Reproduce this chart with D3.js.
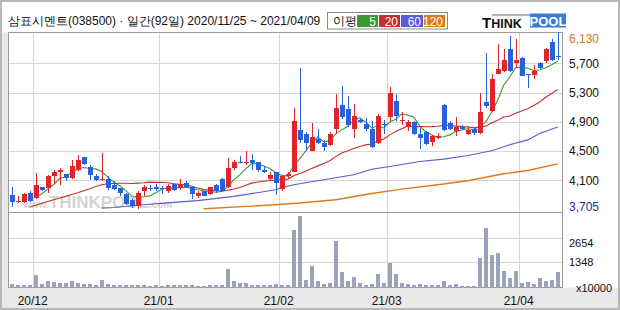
<!DOCTYPE html>
<html>
<head>
<meta charset="utf-8">
<script src="https://cdn.jsdelivr.net/npm/d3@7"></script>
<style>
  html, body { margin: 0; padding: 0; background: #fff; }
  svg { display: block; }
  text { font-family: "Liberation Sans", Arial, sans-serif; }
</style>
</head>
<body>
<div id="chart"></div>
<script>
// 삼표시멘트 daily candles, 2020/11/25 ~ 2021/04/09 (92 trading days)
const title = "삼표시멘트(038500) · 일간(92일) 2020/11/25 ~ 2021/04/09";

const opens = [3895, 3800, 3810, 3925, 3855, 4005, 3995, 4165, 4210, 4190,
  4130, 4240, 4415, 4280, 4160, 4100, 4120, 4040, 3995, 3915,
  3835, 3745, 3960, 4000, 4015, 4000, 3950, 4050, 3995, 4065,
  4005, 3880, 3950, 3910, 4040, 4115, 4005, 4265, 4355, 4340,
  4380, 4355, 4245, 4120, 4220, 3980, 4155, 4220, 4790, 4730,
  4505, 4665, 4610, 4585, 4805, 5130, 5080, 4805, 4925, 4870,
  4805, 4610, 4870, 4960, 5185, 4905, 4835, 4895, 4735, 4765,
  4620, 4690, 5130, 4880, 4780, 4835, 4735, 4800, 4745, 5170,
  5050, 5560, 5590, 5895, 5710, 5770, 5560, 5540, 5700, 5730,
  5995, 5800];
const highs = [4015, 3880, 3925, 3955, 4200, 4015, 4175, 4245, 4275, 4190,
  4380, 4450, 4425, 4310, 4185, 4470, 4155, 4085, 4000, 3925,
  3855, 3950, 4040, 4040, 4050, 4025, 4050, 4060, 4120, 4085,
  4025, 3950, 3960, 4015, 4050, 4130, 4405, 4380, 4435, 4495,
  4455, 4355, 4290, 4220, 4220, 4165, 4220, 5090, 5640, 4765,
  4880, 4800, 4655, 4760, 5280, 5390, 5250, 5140, 4950, 4950,
  4905, 5000, 4925, 5380, 5280, 5030, 4925, 4910, 4810, 4775,
  4720, 4745, 5140, 4905, 4960, 4860, 4835, 4810, 5300, 5845,
  5550, 5970, 5900, 6080, 6030, 5780, 5560, 5680, 5720, 5910,
  6030, 6130];
const lows = [3730, 3790, 3790, 3810, 3850, 3950, 3925, 4050, 4040, 4085,
  4120, 4230, 4305, 4105, 4085, 4085, 3970, 3970, 3880, 3765,
  3720, 3705, 3880, 3950, 3950, 3910, 3925, 3950, 3970, 3995,
  3845, 3855, 3880, 3900, 3925, 3950, 3995, 4235, 4340, 4310,
  4235, 4220, 4200, 4085, 3895, 3950, 4130, 4210, 4610, 4495,
  4495, 4595, 4495, 4575, 4745, 4940, 4835, 4685, 4880, 4775,
  4540, 4595, 4730, 4905, 4905, 4860, 4775, 4720, 4530, 4585,
  4575, 4665, 4775, 4790, 4710, 4785, 4720, 4720, 4730, 5090,
  5040, 5550, 5580, 5580, 5630, 5520, 5360, 5490, 5620, 5700,
  5730, 5745];
const closes = [3810, 3820, 3910, 3820, 4040, 3970, 4160, 4220, 4245, 4130,
  4300, 4380, 4320, 4175, 4105, 4120, 3995, 3980, 3925, 3775,
  3745, 3925, 4005, 3985, 3985, 3985, 4025, 3965, 4050, 4005,
  3910, 3925, 3890, 4005, 3950, 3960, 4265, 4355, 4340, 4355,
  4335, 4235, 4210, 4175, 4060, 4155, 4185, 4905, 4655, 4610,
  4690, 4610, 4560, 4735, 5085, 4960, 4850, 4985, 4895, 4800,
  4550, 4985, 4850, 5300, 4985, 4925, 4895, 4730, 4675, 4595,
  4710, 4710, 4790, 4800, 4835, 4805, 4790, 4745, 5030, 5110,
  5490, 5620, 5750, 5590, 5750, 5530, 5540, 5595, 5630, 5895,
  5740, 5780];
// volume, x10000 shares
const volumes = [183, 113, 130, 130, 653, 183, 340, 305, 252, 218,
  340, 252, 200, 183, 148, 392, 183, 130, 130, 130,
  130, 148, 113, 96, 113, 96, 113, 113, 130, 130,
  113, 78, 78, 113, 130, 130, 966, 357, 252, 235,
  130, 130, 130, 130, 200, 148, 130, 3055, 3839, 392,
  1175, 340, 183, 235, 2481, 827, 340, 548, 235, 148,
  183, 705, 235, 1297, 705, 235, 183, 130, 183, 130,
  130, 130, 340, 130, 183, 61, 61, 61, 1593, 3160,
  1750, 1837, 862, 531, 897, 235, 287, 183, 531, 340,
  392, 810];

// MA20 before a full 20-day window exists, days 3..18
const ma20HeadStart = 3;
const ma20Head = [3735, 3760, 3785, 3810, 3835, 3858, 3880, 3905, 3930, 3957,
  3985, 4015, 4040, 4052, 4058, 4060];
// MA60 / MA120 as [day index, value]
const ma60Points = [[15, 3720], [17, 3729], [22, 3766], [27, 3798], [31, 3822],
  [37, 3880], [44, 3970], [45, 4002], [47, 4039], [53, 4121], [57, 4175],
  [60, 4250], [63, 4289], [68, 4357], [72, 4389], [76, 4439], [80, 4503],
  [83, 4585], [86, 4653], [88, 4740], [91, 4830]];
const ma120Points = [[32, 3710], [44, 3766], [48, 3789], [54, 3834], [60, 3920],
  [65, 3980], [71, 4039], [76, 4093], [82, 4189], [86, 4234], [91, 4325]];

const priceTicks = [4100, 4500, 4900, 5300, 5700];
const volumeTicks = [1348, 2654];
const monthStarts = [4, 25, 45, 63, 85];
const monthLabels = ["20/12", "21/01", "21/02", "21/03", "21/04"];
const maNames = ["5", "20", "60", "120"];
const maColors = ["#3a9a30", "#c0302c", "#5a5ad8", "#e07a18"];

class CandleChart {
  constructor(_config) {
    this.config = {
      parentElement: _config.parentElement,
      width: 620,
      height: 310,
      left: 8.5,
      right: 562.5,
      priceTop: 32.5,
      priceBottom: 212.5,
      volBottom: 287.5,
    };
    this.initVis();
  }

  initVis() {
    const vis = this;
    const c = vis.config;

    vis.svg = d3.select(c.parentElement).append("svg")
      .attr("width", c.width)
      .attr("height", c.height);

    // frame + grey strips
    vis.svg.append("rect").attr("x", 0).attr("y", 0)
      .attr("width", c.width).attr("height", c.height).attr("fill", "#fff");
    vis.svg.append("rect").attr("x", 1).attr("y", c.volBottom)
      .attr("width", c.width - 2).attr("height", c.height - c.volBottom - 1)
      .attr("fill", "#e9e9e9");
    vis.svg.append("rect").attr("x", 1).attr("y", c.priceTop)
      .attr("width", c.left - 1).attr("height", c.volBottom - c.priceTop)
      .attr("fill", "#e9e9e9");
    vis.svg.append("rect").attr("x", 1).attr("y", 1)
      .attr("width", c.width - 2).attr("height", c.height - 2)
      .attr("fill", "none").attr("stroke", "#b8b8b8").attr("stroke-width", 2);

    // scales
    vis.x = d3.scaleBand().domain(d3.range(closes.length)).range([8.7, 560.7]);
    vis.yPrice = d3.scaleLinear().domain([4100, 5700]).range([180.3, 63.3]);
    vis.yVol = d3.scaleLinear().domain([0, 1348]).range([c.volBottom, 262.3]);

    const grid = vis.svg.append("g").attr("stroke", "#d6d6d6").attr("shape-rendering", "crispEdges");
    grid.selectAll(".hp").data(priceTicks).enter().append("line")
      .attr("x1", c.left).attr("x2", c.right)
      .attr("y1", (d) => Math.round(vis.yPrice(d)) + 0.5)
      .attr("y2", (d) => Math.round(vis.yPrice(d)) + 0.5);
    grid.selectAll(".hv").data(volumeTicks).enter().append("line")
      .attr("x1", c.left).attr("x2", c.right)
      .attr("y1", (d) => Math.round(vis.yVol(d)) + 0.5)
      .attr("y2", (d) => Math.round(vis.yVol(d)) + 0.5);
    grid.selectAll(".vv").data(monthStarts).enter().append("line")
      .attr("x1", (d) => Math.round(vis.x(d)) + 0.5)
      .attr("x2", (d) => Math.round(vis.x(d)) + 0.5)
      .attr("y1", c.priceTop).attr("y2", c.volBottom);

    // watermark
    const wm = vis.svg.append("text")
      .attr("x", 23).attr("y", 208)
      .attr("fill", "#d4d4d4").attr("font-weight", "bold");
    wm.append("tspan").attr("font-size", 10).text("www.");
    wm.append("tspan").attr("font-size", 17).text("THINKPOOL");
    wm.append("tspan").attr("font-size", 10).text(".com");

    // panel borders
    const border = vis.svg.append("g").attr("fill", "none")
      .attr("stroke", "#9a9a9a").attr("shape-rendering", "crispEdges");
    border.append("rect").attr("x", c.left).attr("y", c.priceTop)
      .attr("width", c.right - c.left).attr("height", c.volBottom - c.priceTop);
    border.append("line").attr("x1", c.left).attr("x2", c.right)
      .attr("y1", c.priceBottom).attr("y2", c.priceBottom);

    // volume bars
    vis.svg.append("g").selectAll("rect").data(volumes).enter().append("rect")
      .attr("x", (d, i) => Math.round(vis.x(i)) + 1)
      .attr("width", 4)
      .attr("y", (d) => vis.yVol(d))
      .attr("height", (d) => c.volBottom - vis.yVol(d))
      .attr("fill", "#9aa3ba")
      .attr("shape-rendering", "crispEdges");

    // moving averages
    const mid = (i) => vis.x(i) + vis.x.bandwidth() / 2;
    const line = d3.line().x((d) => mid(d[0])).y((d) => vis.yPrice(d[1]));
    const movingAvg = (n) => closes.map((v, i) =>
      i < n - 1 ? null : [i, d3.mean(closes.slice(i - n + 1, i + 1))]).filter((d) => d);
    const ma5 = movingAvg(5);
    const ma20 = ma20Head.map((v, k) => [ma20HeadStart + k, v]).concat(movingAvg(20));
    const maSeries = [ma5, ma20, ma60Points, ma120Points];

    vis.svg.append("g").selectAll("path").data(maSeries).enter().append("path")
      .attr("d", line)
      .attr("fill", "none")
      .attr("stroke", (d, k) => maColors[k])
      .attr("stroke-width", (d, k) => (k === 3 ? 1.4 : 1.1));

    // candles
    const candles = vis.svg.append("g").selectAll("g").data(closes).enter().append("g")
      .attr("fill", (d, i) => (d >= opens[i] ? "#e02428" : "#2862d8"))
      .attr("stroke", (d, i) => (d >= opens[i] ? "#e02428" : "#2862d8"))
      .attr("shape-rendering", "crispEdges");
    candles.append("line")
      .attr("x1", (d, i) => Math.round(mid(i)) + 0.5)
      .attr("x2", (d, i) => Math.round(mid(i)) + 0.5)
      .attr("y1", (d, i) => vis.yPrice(highs[i]))
      .attr("y2", (d, i) => vis.yPrice(lows[i]));
    candles.append("rect")
      .attr("stroke", "none")
      .attr("x", (d, i) => Math.round(vis.x(i)) + 1)
      .attr("width", 5)
      .attr("y", (d, i) => vis.yPrice(Math.max(d, opens[i])))
      .attr("height", (d, i) => Math.max(1.5, Math.abs(vis.yPrice(d) - vis.yPrice(opens[i]))));

    // right axis
    const fmt = d3.format(",");
    vis.svg.append("g").selectAll("text").data(priceTicks).enter().append("text")
      .attr("x", 569).attr("y", (d) => vis.yPrice(d)).attr("dy", "0.35em")
      .attr("font-size", 12).attr("fill", "#111").text(fmt);
    const maxP = d3.max(highs), minP = d3.min(lows);
    vis.svg.append("text").attr("x", 569).attr("y", Math.max(vis.yPrice(maxP), 38.5))
      .attr("dy", "0.35em").attr("font-size", 12).attr("fill", "#cc7a28").text(fmt(maxP));
    vis.svg.append("text").attr("x", 569).attr("y", Math.min(vis.yPrice(minP), 206.5))
      .attr("dy", "0.35em").attr("font-size", 12).attr("fill", "#1c2a9c").text(fmt(minP));

    vis.svg.append("g").selectAll("text").data(volumeTicks).enter().append("text")
      .attr("x", 569).attr("y", (d) => Math.max(vis.yVol(d), 243)).attr("dy", "0.35em")
      .attr("font-size", 11).attr("fill", "#111").text((d) => d);
    vis.svg.append("text").attr("x", 576).attr("y", 288).attr("dy", "0.35em")
      .attr("font-size", 11).attr("fill", "#111").text("x10000");

    // bottom month labels
    vis.svg.append("g").selectAll("text").data(monthStarts).enter().append("text")
      .attr("x", (d) => vis.x(d)).attr("y", 301).attr("dy", "0.35em")
      .attr("text-anchor", "middle").attr("font-size", 12).attr("fill", "#111")
      .text((d, k) => monthLabels[k]);

    // header
    vis.svg.append("text").attr("x", 8).attr("y", 21).attr("dy", "0.35em")
      .attr("font-family", "'Noto Sans CJK KR', sans-serif")
      .attr("font-size", 12).attr("fill", "#111").text(title);

    // MA legend
    const lg = vis.svg.append("g");
    lg.append("rect").attr("x", 327.5).attr("y", 12.5).attr("width", 120).attr("height", 16.5)
      .attr("fill", "#fff").attr("stroke", "#8a8a8a");
    lg.append("text").attr("x", 333).attr("y", 21).attr("dy", "0.35em")
      .attr("font-family", "'Noto Sans CJK KR', sans-serif")
      .attr("font-size", 12).attr("fill", "#111").text("이평");
    const boxX = [357, 379, 401, 424], boxW = [21, 21, 22, 21];
    lg.selectAll(".box").data(maNames).enter().append("rect")
      .attr("x", (d, k) => boxX[k]).attr("y", 15).attr("width", (d, k) => boxW[k]).attr("height", 12)
      .attr("fill", (d, k) => maColors[k]);
    lg.selectAll(".lbl").data(maNames).enter().append("text")
      .attr("x", (d, k) => boxX[k] + boxW[k] - 2).attr("y", 21.5).attr("dy", "0.35em")
      .attr("text-anchor", "end").attr("font-size", 12).attr("fill", "#fff").text((d) => d);

    // THINKPOOL logo
    const logo = vis.svg.append("g");
    logo.append("rect").attr("x", 492).attr("y", 14).attr("width", 38).attr("height", 2).attr("fill", "#b4b4b4");
    const tk = logo.append("text").attr("x", 482).attr("y", 27.5)
      .attr("font-weight", "bold").attr("fill", "#111");
    tk.append("tspan").attr("font-size", 15).text("T");
    tk.append("tspan").attr("font-size", 12.5).text("HINK");
    logo.append("rect").attr("x", 530).attr("y", 13.5).attr("width", 36).attr("height", 14).attr("fill", "#3a7ad8");
    logo.append("text").attr("x", 548).attr("y", 21).attr("dy", "0.37em")
      .attr("text-anchor", "middle").attr("font-weight", "bold").attr("font-size", 13)
      .attr("fill", "#fff").text("POOL");
  }
}

new CandleChart({ parentElement: "#chart" });
</script>
</body>
</html>
